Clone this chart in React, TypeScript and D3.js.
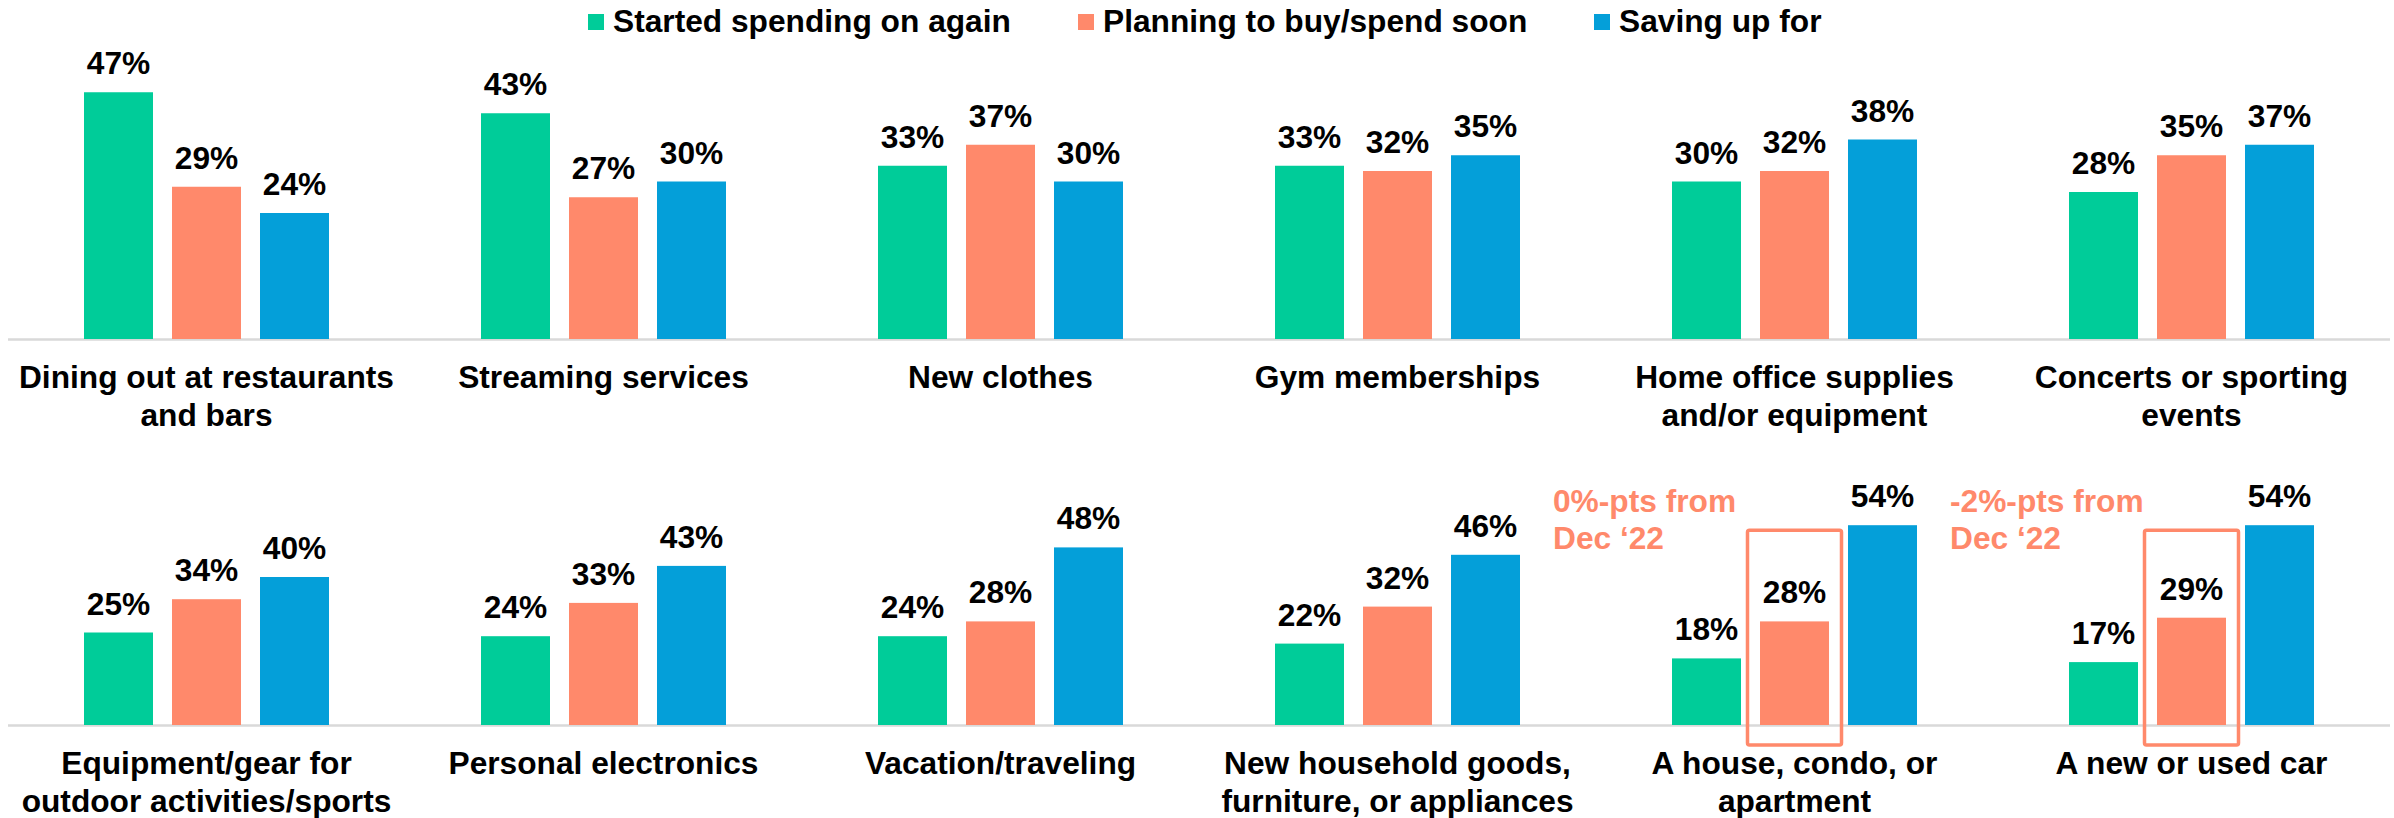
import React from "react";
import * as d3 from "d3";

const seriesNames = ["Started spending on again", "Planning to buy/spend soon", "Saving up for"];
const seriesColors = ["#00CC99", "#FF896B", "#049FD9"];

const row1Categories = [
  "Dining out at restaurants|and bars",
  "Streaming services",
  "New clothes",
  "Gym memberships",
  "Home office supplies|and/or equipment",
  "Concerts or sporting|events",
];
const row1Started = [47, 43, 33, 33, 30, 28];
const row1Planning = [29, 27, 37, 32, 32, 35];
const row1Saving = [24, 30, 30, 35, 38, 37];

const row2Categories = [
  "Equipment/gear for|outdoor activities/sports",
  "Personal electronics",
  "Vacation/traveling",
  "New household goods,|furniture, or appliances",
  "A house, condo, or|apartment",
  "A new or used car",
];
const row2Started = [25, 24, 24, 22, 18, 17];
const row2Planning = [34, 33, 28, 32, 28, 29];
const row2Saving = [40, 43, 48, 46, 54, 54];

const annotations = [
  { category: "A house, condo, or|apartment", lines: ["0%-pts from", "Dec \u201822"] },
  { category: "A new or used car", lines: ["-2%-pts from", "Dec \u201822"] },
];

const W = 2394;
const H = 818;
const FONT = "'Liberation Sans', Arial, Helvetica, sans-serif";
const FS = 31.7;
const ACCENT = "#FF896B";

type RowProps = {
  categories: string[];
  values: number[][];
  base: number;
  yMax: number;
  top: number;
  annotate?: boolean;
};

function Row({ categories, values, base, yMax, top, annotate }: RowProps) {
  const x0 = d3.scaleBand<string>().domain(categories).range([8, 2390]).padding(0);
  const x1 = d3
    .scaleBand<string>()
    .domain(seriesNames)
    .range([76, 321])
    .paddingInner(0.216)
    .paddingOuter(0);
  const y = d3.scaleLinear().domain([0, yMax]).range([base, top]);

  return (
    <g>
      <line x1={8} x2={2390} y1={base + 0.5} y2={base + 0.5} stroke="#D9D9D9" strokeWidth={2.5} />
      {categories.map((cat, ci) => {
        const gx = x0(cat)!;
        const cx = gx + x0.bandwidth() / 2;
        const lines = cat.split("|");
        const ann = annotate ? annotations.find((a) => a.category === cat) : undefined;
        return (
          <g key={cat}>
            {seriesNames.map((s, si) => {
              const v = values[si][ci];
              const bx = gx + x1(s)!;
              const bw = x1.bandwidth();
              return (
                <g key={s}>
                  <rect x={bx} y={y(v)} width={bw} height={base - y(v)} fill={seriesColors[si]} />
                  <text
                    x={bx + bw / 2}
                    y={y(v) - 18}
                    textAnchor="middle"
                    fontFamily={FONT}
                    fontWeight="bold"
                    fontSize={FS}
                    fill="#000"
                  >
                    {v}%
                  </text>
                </g>
              );
            })}
            {lines.map((ln, li) => (
              <text
                key={li}
                x={cx}
                y={base + 49 + li * 37.5}
                textAnchor="middle"
                fontFamily={FONT}
                fontWeight="bold"
                fontSize={FS}
                fill="#000"
              >
                {ln}
              </text>
            ))}
            {ann && (
              <g>
                {(() => {
                  const ox = gx + x1(seriesNames[1])! + x1.bandwidth() / 2;
                  const topY = y(values[2][ci]) + 5;
                  return (
                    <rect
                      x={ox - 47}
                      y={topY}
                      width={94}
                      height={base + 20 - topY}
                      fill="none"
                      stroke={ACCENT}
                      strokeWidth={3.5}
                      rx={2}
                    />
                  );
                })()}
                {ann.lines.map((ln, li) => (
                  <text
                    key={li}
                    x={gx - 43}
                    y={base - 213 + li * 37}
                    fontFamily={FONT}
                    fontWeight="bold"
                    fontSize={FS}
                    fill={ACCENT}
                  >
                    {ln}
                  </text>
                ))}
              </g>
            )}
          </g>
        );
      })}
    </g>
  );
}

function Legend() {
  const starts = [588, 1078, 1594];
  return (
    <g>
      {seriesNames.map((s, i) => (
        <g key={s}>
          <rect x={starts[i]} y={14} width={16} height={16} fill={seriesColors[i]} />
          <text
            x={starts[i] + 25}
            y={31.5}
            fontFamily={FONT}
            fontWeight="bold"
            fontSize={FS}
            fill="#000"
          >
            {s}
          </text>
        </g>
      ))}
    </g>
  );
}

export default function App() {
  return (
    <svg
      width={W}
      height={H}
      viewBox={`0 0 ${W} ${H}`}
      style={{ position: "absolute", left: 0, top: 0, background: "#fff" }}
    >
      <rect x={0} y={0} width={W} height={H} fill="#fff" />
      <Legend />
      <Row
        categories={row1Categories}
        values={[row1Started, row1Planning, row1Saving]}
        base={339}
        yMax={50}
        top={339 - 262.5}
      />
      <Row
        categories={row2Categories}
        values={[row2Started, row2Planning, row2Saving]}
        base={725}
        yMax={60}
        top={725 - 222}
        annotate
      />
    </svg>
  );
}
